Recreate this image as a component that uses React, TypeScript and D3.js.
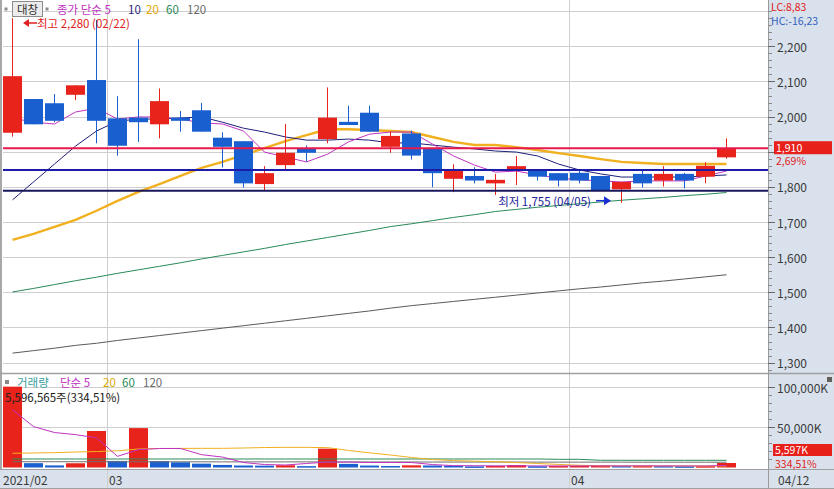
import React from 'react';
import * as d3 from 'd3';

// trading days shown (2021)
const dates = [
  '02/22', '02/23', '02/24', '02/25', '02/26',
  '03/02', '03/03', '03/04', '03/05', '03/08', '03/09', '03/10', '03/11', '03/12',
  '03/15', '03/16', '03/17', '03/18', '03/19', '03/22', '03/23', '03/24', '03/25', '03/26',
  '03/29', '03/30', '03/31',
  '04/01', '04/02', '04/05', '04/06', '04/07', '04/08', '04/09', '04/12',
];

const open = [1954, 2050, 2038, 2062, 2104, 1995, 1997, 1978, 1997, 2018, 1940, 1930, 1808, 1862, 1908, 1936, 1985, 2011, 1914, 1952, 1908, 1823, 1831, 1810, 1850, 1848, 1839, 1840, 1831, 1793, 1837, 1818, 1837, 1829, 1884];
const high = [2280, 2050, 2064, 2089, 2275, 2058, 2220, 2080, 2016, 2039, 1955, 1930, 1859, 1979, 1918, 2083, 2031, 2031, 1957, 1960, 1908, 1864, 1856, 1837, 1888, 1848, 1839, 1848, 1831, 1814, 1846, 1859, 1840, 1870, 1938];
const low = [1943, 1978, 1984, 2047, 1924, 1889, 1928, 1938, 1957, 1957, 1855, 1798, 1789, 1848, 1872, 1924, 1976, 1957, 1897, 1878, 1799, 1785, 1810, 1777, 1805, 1818, 1801, 1810, 1789, 1755, 1798, 1801, 1796, 1810, 1880];
const close = [2115, 1978, 1988, 2089, 1988, 1917, 1984, 2044, 1988, 1957, 1914, 1810, 1839, 1897, 1897, 1997, 1976, 1957, 1945, 1889, 1839, 1848, 1818, 1820, 1859, 1829, 1818, 1818, 1791, 1814, 1810, 1837, 1818, 1860, 1910];

const ma5 = [1996, 1984, 1979, 2013, 2024, 1993, 1999, 1999, 1993, 1982, 1979, 1959, 1899, 1885, 1871, 1893, 1928, 1950, 1956, 1956, 1922, 1888, 1862, 1842, 1845, 1834, 1825, 1820, 1817, 1814, 1817, 1817, 1817, 1831, 1845];
const ma10 = [1763, 1814, 1865, 1916, 1959, 1987, 1993, 1993, 1996, 1999, 1984, 1967, 1956, 1942, 1933, 1933, 1936, 1933, 1925, 1925, 1919, 1913, 1908, 1902, 1899, 1888, 1865, 1848, 1837, 1828, 1828, 1828, 1828, 1831, 1834];
const ma20 = [1649, 1666, 1686, 1706, 1732, 1760, 1786, 1808, 1831, 1854, 1871, 1891, 1910, 1930, 1947, 1964, 1964, 1962, 1959, 1956, 1942, 1928, 1919, 1919, 1913, 1905, 1896, 1888, 1879, 1871, 1868, 1865, 1865, 1865, 1865];
const ma60 = [1501, 1511, 1522, 1533, 1543, 1554, 1564, 1574, 1584, 1595, 1605, 1615, 1625, 1636, 1646, 1656, 1666, 1676, 1687, 1695, 1704, 1713, 1721, 1730, 1736, 1742, 1747, 1752, 1757, 1762, 1766, 1770, 1775, 1779, 1784];
const ma120 = [1327, 1334, 1341, 1349, 1355, 1363, 1370, 1377, 1384, 1391, 1398, 1405, 1412, 1419, 1426, 1433, 1440, 1447, 1455, 1462, 1468, 1474, 1480, 1486, 1492, 1498, 1504, 1510, 1515, 1521, 1527, 1532, 1538, 1544, 1550];

// volume in shares
const volume = [100800000, 5400000, 2600000, 5300000, 45500000, 8200000, 49100000, 8000000, 6500000, 4800000, 3200000, 2500000, 2300000, 2800000, 1700000, 23500000, 4500000, 2400000, 1900000, 2700000, 2500000, 2100000, 1400000, 1800000, 2900000, 1500000, 1800000, 2000000, 2300000, 1900000, 2100000, 1800000, 1500000, 1673063, 5596565];
// volume moving averages, thousand shares
const volMa5 = [72000, 51000, 43600, 41000, 37000, 13900, 22300, 23700, 23700, 16000, 13000, 6200, 3700, 3100, 5000, 6800, 6800, 6200, 6200, 6200, 3700, 2300, 2200, 2100, 2100, 2000, 2000, 2000, 2000, 2000, 2000, 2000, 1900, 1900, 2600];
const volMa20 = [17700, 18100, 18500, 19300, 19900, 20800, 23100, 23700, 23800, 23900, 23900, 24300, 24900, 25100, 25100, 24800, 21200, 18300, 15600, 12500, 10000, 8600, 7900, 7200, 6200, 5000, 3800, 2800, 2100, 1900, 1900, 1900, 1900, 1900, 1900];
const volMa60 = [10600, 10600, 10600, 10600, 10600, 10600, 10600, 10600, 10600, 10600, 10600, 10600, 10600, 10600, 10600, 10600, 10600, 10600, 10600, 10600, 10600, 10600, 10600, 10600, 10600, 10600, 10200, 10200, 9000, 9000, 9000, 9000, 9000, 9000, 9000];
const volMa120 = [7200, 7200, 7200, 7200, 7200, 7100, 7100, 7100, 7100, 7100, 7000, 7000, 7000, 7000, 7000, 6900, 6900, 6900, 6900, 6900, 6800, 6800, 6800, 6800, 6800, 6700, 6700, 6700, 6700, 6700, 6600, 6600, 6600, 6600, 6600];

const priceTicks = [1300, 1400, 1500, 1600, 1700, 1800, 1900, 2000, 2100, 2200];
const volTicks = [50000, 100000];
const monthTicks = [
  { date: '02/22', label: '2021/02' },
  { date: '03/02', label: '03' },
  { date: '04/01', label: '04' },
];
const userLines = [
  { value: 1848, color: '#1c1ca8' },
  { value: 1789, color: '#17175e' },
];
const priceLegend = [
  { label: '종가 단순 5', color: '#c032c0', at: 57 },
  { label: '10', color: '#1f1f7a', at: 128 },
  { label: '20', color: '#e0a800', at: 146 },
  { label: '60', color: '#2a8a58', at: 166 },
  { label: '120', color: '#6a6a6a', at: 187 },
];
const volLegend = [
  { label: '거래량', color: '#3aa0a0', at: 17 },
  { label: '단순 5', color: '#c032c0', at: 60 },
  { label: '20', color: '#e0a800', at: 103 },
  { label: '60', color: '#2a8a58', at: 122 },
  { label: '120', color: '#6a6a6a', at: 143 },
];

const W = 834;
const H = 489;
const PLOT_R = 768;
const PRICE_BOTTOM = 373;
const VOL_BOTTOM = 469;
const FONT = '"Noto Sans CJK KR", "Noto Sans", sans-serif';

const UP = '#e8231b';
const DOWN = '#1a5fd0';
const AXIS_BG = '#d9e1ec';
const GRID = '#cfcfcf';

const App: React.FC = () => {
  const x = d3.scaleBand<string>().domain(dates).range([2, 737]).paddingInner(0.095).paddingOuter(0.0475);
  const bw = x.bandwidth();
  const cx = (i: number) => (x(dates[i]) as number) + bw / 2;

  const y = d3.scaleLinear().domain([1300, 2200]).range([362.6, 46.3]);
  // volume axis in thousand shares
  const yv = d3.scaleLinear().domain([0, 100000]).range([467.5, 387.3]);

  const priceLine = (vals: number[]) =>
    d3.line<number>().x((_, i) => cx(i)).y((d) => y(d))(vals) as string;
  const volLine = (vals: number[]) =>
    d3.line<number>().x((_, i) => cx(i)).y((d) => yv(d))(vals) as string;

  const fmt = d3.format(',');
  const pct = (v: number) => v.toFixed(2).replace('.', ',') + '%';
  const last = close.length - 1;
  const lastClose = close[last];
  const change = ((lastClose - close[last - 1]) / close[last - 1]) * 100;
  const volChange = (volume[last] / volume[last - 1]) * 100;
  const hiIdx = d3.maxIndex(high);
  const loIdx = d3.minIndex(low);

  const minorPrice = d3.range(1280, 2320, 20);
  const minorVol = d3.range(10000, 110000, 10000);
  const snap = (v: number) => Math.round(v) + 0.5;

  const hiX = (x(dates[hiIdx]) as number) + bw + 1;
  const loX = (x(dates[loIdx]) as number) - 1;
  const loY = y(low[loIdx]) - 2;
  const tagY = y(lastClose);

  return (
    <div style={{ position: 'fixed', left: 0, top: 0 }}>
      <svg width={W} height={H} style={{ display: 'block', fontFamily: FONT }}>
        <rect x={0} y={0} width={W} height={H} fill="#ffffff" />

        {/* right axis panel and bottom date strip */}
        <rect x={PLOT_R} y={0} width={W - PLOT_R} height={H} fill={AXIS_BG} />
        <rect x={0} y={VOL_BOTTOM} width={W} height={H - VOL_BOTTOM} fill={AXIS_BG} />

        {/* horizontal grid */}
        {[...priceTicks, 2300].map((t) => (
          <line key={'gp' + t} x1={3} x2={PLOT_R} y1={snap(y(t))} y2={snap(y(t))} stroke={GRID} />
        ))}
        {volTicks.map((t) => (
          <line key={'gv' + t} x1={3} x2={PLOT_R} y1={snap(yv(t))} y2={snap(yv(t))} stroke={GRID} />
        ))}

        {/* month lines */}
        {monthTicks.slice(1).map((m) => {
          const mx = Math.round(x(m.date) as number) - 0.5;
          return <line key={'m' + m.date} x1={mx} x2={mx} y1={0} y2={H} stroke={GRID} />;
        })}

        {/* moving averages */}
        <path d={priceLine(ma120)} fill="none" stroke="#5a5a5a" strokeWidth={1} />
        <path d={priceLine(ma60)} fill="none" stroke="#2a8a58" strokeWidth={1} />
        <path d={priceLine(ma20)} fill="none" stroke="#f0b020" strokeWidth={2.4} />
        <path d={priceLine(ma10)} fill="none" stroke="#1f1f7a" strokeWidth={1} />
        <path d={priceLine(ma5)} fill="none" stroke="#c032c0" strokeWidth={1} />

        {/* candles */}
        {dates.map((d, i) => {
          const up = close[i] >= open[i];
          const c = up ? UP : DOWN;
          const top = y(Math.max(open[i], close[i]));
          const bot = y(Math.min(open[i], close[i]));
          return (
            <g key={'c' + d}>
              <line x1={cx(i)} x2={cx(i)} y1={y(high[i])} y2={y(low[i])} stroke={c} />
              <rect x={x(d)} y={top} width={bw} height={Math.max(2, bot - top)} fill={c} />
            </g>
          );
        })}

        {/* current price and user lines */}
        <line x1={3} x2={PLOT_R} y1={tagY} y2={tagY} stroke="#e8194c" strokeWidth={2} />
        {userLines.map((l) => (
          <line key={'u' + l.value} x1={3} x2={PLOT_R} y1={y(l.value)} y2={y(l.value)} stroke={l.color} strokeWidth={2} />
        ))}

        {/* high / low markers */}
        <path d={`M${hiX},23 L${hiX + 6},19 L${hiX + 6},27 Z`} fill="#e02020" />
        <line x1={hiX + 5} x2={hiX + 14} y1={23} y2={23} stroke="#e02020" strokeWidth={1.5} />
        <text x={hiX + 14} y={23} fontSize={11.5} fill="#e02020" dominantBaseline="central">
          {`최고 ${fmt(high[hiIdx])} (${dates[hiIdx]})`}
        </text>
        <text x={loX - 20} y={loY} fontSize={11.5} fill="#20209a" textAnchor="end" dominantBaseline="central">
          {`최저 ${fmt(low[loIdx])} (${dates[loIdx]})`}
        </text>
        <line x1={loX - 15} x2={loX - 5} y1={loY} y2={loY} stroke="#1a30d0" strokeWidth={1.5} />
        <path d={`M${loX},${loY} L${loX - 7},${loY - 4.5} L${loX - 7},${loY + 4.5} Z`} fill="#1a30d0" />

        {/* volume bars */}
        {dates.map((d, i) => {
          const up = i === 0 || volume[i] > volume[i - 1];
          const top = yv(volume[i] / 1000);
          return (
            <rect key={'v' + d} x={x(d)} y={top} width={bw} height={Math.max(1.5, yv(0) - top)} fill={up ? UP : DOWN} />
          );
        })}
        <path d={volLine(volMa120)} fill="none" stroke="#6e6e6e" strokeWidth={1} />
        <path d={volLine(volMa60)} fill="none" stroke="#2a8a58" strokeWidth={1} />
        <path d={volLine(volMa20)} fill="none" stroke="#f0b020" strokeWidth={1} />
        <path d={volLine(volMa5)} fill="none" stroke="#c032c0" strokeWidth={1} />

        {/* pane borders */}
        <rect x={0} y={0} width={2} height={VOL_BOTTOM} fill="#a8a8a8" />
        <line x1={0} x2={W} y1={PRICE_BOTTOM + 0.5} y2={PRICE_BOTTOM + 0.5} stroke="#a0a0a0" strokeWidth={1.5} />
        <line x1={0} x2={W} y1={VOL_BOTTOM + 0.5} y2={VOL_BOTTOM + 0.5} stroke="#a0a0a0" />
        <line x1={PLOT_R + 0.5} x2={PLOT_R + 0.5} y1={0} y2={H} stroke="#9a9a9a" />
        <line x1={0} x2={W} y1={H - 0.5} y2={H - 0.5} stroke="#a0a0a0" />

        {/* price axis (labels hidden under the price tag are skipped) */}
        {minorPrice.map((t) => (
          <line key={'mt' + t} x1={PLOT_R} x2={PLOT_R + 4} y1={snap(y(t))} y2={snap(y(t))} stroke="#8a8a8a" />
        ))}
        {priceTicks.map((t) => (
          <g key={'pt' + t}>
            <line x1={PLOT_R} x2={PLOT_R + 7} y1={snap(y(t))} y2={snap(y(t))} stroke="#6a6a6a" />
            {Math.abs(y(t) - tagY) > 16 && (
              <text x={777} y={y(t)} fontSize={12} fill="#3a3a3a" dominantBaseline="central">{fmt(t)}</text>
            )}
          </g>
        ))}

        {/* volume axis */}
        {minorVol.map((t) => (
          <line key={'mv' + t} x1={PLOT_R} x2={PLOT_R + 4} y1={snap(yv(t))} y2={snap(yv(t))} stroke="#8a8a8a" />
        ))}
        {volTicks.map((t) => (
          <g key={'vt' + t}>
            <line x1={PLOT_R} x2={PLOT_R + 7} y1={snap(yv(t))} y2={snap(yv(t))} stroke="#6a6a6a" />
            <text x={777} y={yv(t)} fontSize={12} fill="#3a3a3a" dominantBaseline="central">{fmt(t) + 'K'}</text>
          </g>
        ))}
        <rect x={826.5} y={376.5} width={6} height={6} fill="#606060" stroke="#e0e0e0" />

        {/* LC / HC */}
        <text x={771} y={6.5} fontSize={10.5} fill="#e02020" dominantBaseline="central">LC:8,83</text>
        <text x={771} y={20} fontSize={10.5} fill="#3060c0" dominantBaseline="central">HC:-16,23</text>

        {/* current price tag */}
        <rect x={774} y={tagY - 7} width={58} height={13} fill="#e8201a" />
        <text x={776} y={tagY - 1} fontSize={10.5} fill="#ffffff" dominantBaseline="central">{fmt(lastClose)}</text>
        <text x={776} y={tagY + 12.5} fontSize={10.5} fill="#e02020" dominantBaseline="central">{pct(change)}</text>

        {/* current volume tag */}
        <rect x={773} y={444} width={59} height={12} fill="#e8201a" />
        <text x={775} y={449.5} fontSize={10.5} fill="#ffffff" dominantBaseline="central">
          {fmt(Math.round(volume[last] / 1000)) + 'K'}
        </text>
        <text x={775} y={463} fontSize={10.5} fill="#e02020" dominantBaseline="central">{pct(volChange)}</text>

        {/* date axis */}
        {monthTicks.map((m, i) => (
          <text key={'ml' + m.date} x={i === 0 ? 3 : Math.round(x(m.date) as number) + 1} y={479} fontSize={12} fill="#3a3a3a" dominantBaseline="central">
            {m.label}
          </text>
        ))}
        <text x={778} y={479} fontSize={12} fill="#3a3a3a" dominantBaseline="central">{dates[last]}</text>

        {/* price legend */}
        <rect x={4.5} y={7.5} width={3} height={3} fill="#8a8a8a" />
        <rect x={12.5} y={1.5} width={30} height={15} fill="#ececec" stroke="#8c8c8c" />
        <text x={27.5} y={9} fontSize={11.5} fill="#303030" textAnchor="middle" dominantBaseline="central">대창</text>
        <rect x={45.5} y={7.5} width={3} height={3} fill="#8a8a8a" />
        {priceLegend.map((l) => (
          <text key={'pl' + l.label} x={l.at} y={8.5} fontSize={11.5} fill={l.color} dominantBaseline="central">{l.label}</text>
        ))}

        {/* volume legend */}
        <rect x={5} y={380} width={4} height={4} fill="#8a8a8a" />
        {volLegend.map((l) => (
          <text key={'vl' + l.label} x={l.at} y={382} fontSize={11.5} fill={l.color} dominantBaseline="central">{l.label}</text>
        ))}
        <text x={5} y={396.5} fontSize={11.5} fill="#202020" dominantBaseline="central">
          {`${fmt(volume[last])}주(${pct(volChange)})`}
        </text>
      </svg>
    </div>
  );
};

export default App;
